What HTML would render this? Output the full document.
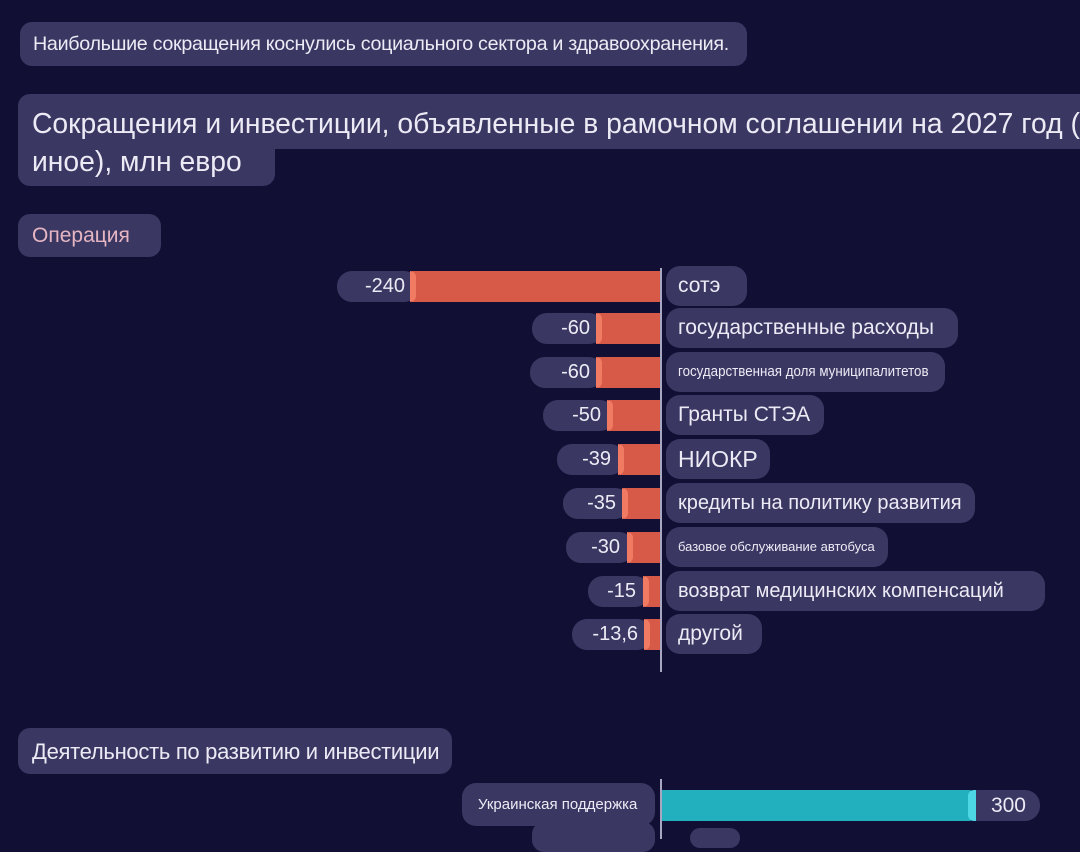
<!DOCTYPE html>
<html><head><meta charset="utf-8"><style>
body{margin:0;width:1080px;height:834px;overflow:hidden;background:#110f33;font-family:"Liberation Sans","DejaVu Sans",sans-serif;color:#ecebf5;position:relative}
.p{position:absolute;background:#3a3762;border-radius:12px;white-space:nowrap;box-sizing:border-box}
.v{position:absolute;background:#3a3762;border-radius:15px;height:31px;line-height:31px;font-size:20px;text-align:right;padding-right:14px;box-sizing:border-box}
.b{position:absolute;background:#d75a48;height:31px}
.b:before{content:"";position:absolute;left:-2px;top:0;width:6px;height:31px;border-radius:0 6px 6px 0;background:#f07a62}
.l{position:absolute;background:#3a3762;border-radius:14px;height:40px;line-height:40px;padding-left:12px;box-sizing:border-box;font-size:21px;white-space:nowrap;overflow:hidden}
.ax{position:absolute;left:660px;width:2px;background:#a8a6c0}
</style></head><body>
<div class="p" style="left:20px;top:22px;width:727px;height:44px;line-height:44px;padding-left:13px;font-size:19.8px;letter-spacing:-0.3px"><span style="display:inline-block;transform:scaleX(0.995);transform-origin:left">Наибольшие сокращения коснулись социального сектора и здравоохранения.</span></div>
<div class="p" style="left:18px;top:94px;width:1080px;height:55px;line-height:58px;padding-left:14px;font-size:28.3px;border-radius:12px 0 0 0">Сокращения и инвестиции, объявленные в рамочном соглашении на 2027 год (</div>
<div class="p" style="left:18px;top:145px;width:257px;height:41px;line-height:32px;padding-left:14px;font-size:28.3px;border-radius:0 0 12px 12px">иное), млн евро</div>
<div class="p" style="left:18px;top:214px;width:143px;height:43px;line-height:44px;padding-left:14px;font-size:21px;color:#e6b6c3">Операция</div>

<div class="ax" style="top:268px;height:404px"></div>

<div class="l" style="left:666px;top:266px;width:81px">сотэ</div>
<div class="l" style="left:666px;top:308px;width:292px">государственные расходы</div>
<div class="l" style="left:666px;top:352px;width:279px;font-size:14.5px"><span style="display:inline-block;transform:scaleX(0.92);transform-origin:left">государственная доля муниципалитетов</span></div>
<div class="l" style="left:666px;top:395px;width:158px">Гранты СТЭА</div>
<div class="l" style="left:666px;top:439px;width:104px;font-size:23px">НИОКР</div>
<div class="l" style="left:666px;top:483px;width:309px;font-size:20px">кредиты на политику развития</div>
<div class="l" style="left:666px;top:527px;width:222px;font-size:13px">базовое обслуживание автобуса</div>
<div class="l" style="left:666px;top:571px;width:379px;font-size:20px">возврат медицинских компенсаций</div>
<div class="l" style="left:666px;top:614px;width:96px">другой</div>

<div class="v" style="left:337px;top:271px;width:82px">-240</div><div class="b" style="left:412px;top:271px;width:248px"></div>
<div class="v" style="left:532px;top:313px;width:72px">-60</div><div class="b" style="left:598px;top:313px;width:62px"></div>
<div class="v" style="left:530px;top:357px;width:74px">-60</div><div class="b" style="left:598px;top:357px;width:62px"></div>
<div class="v" style="left:543px;top:400px;width:72px">-50</div><div class="b" style="left:609px;top:400px;width:51px"></div>
<div class="v" style="left:557px;top:444px;width:68px">-39</div><div class="b" style="left:620px;top:444px;width:40px"></div>
<div class="v" style="left:563px;top:488px;width:67px">-35</div><div class="b" style="left:624px;top:488px;width:36px"></div>
<div class="v" style="left:566px;top:532px;width:68px">-30</div><div class="b" style="left:629px;top:532px;width:31px"></div>
<div class="v" style="left:588px;top:576px;width:62px">-15</div><div class="b" style="left:645px;top:576px;width:15px"></div>
<div class="v" style="left:572px;top:619px;width:80px">-13,6</div><div class="b" style="left:646px;top:619px;width:14px"></div>

<div class="p" style="left:18px;top:728px;width:434px;height:46px;line-height:48px;padding-left:14px;font-size:22px;letter-spacing:-0.3px">Деятельность по развитию и инвестиции</div>
<div class="ax" style="top:779px;height:60px"></div>
<div class="l" style="left:462px;top:783px;width:193px;height:43px;line-height:43px;padding-left:16px;font-size:15px">Украинская поддержка</div>
<div class="v" style="left:962px;top:790px;width:78px;font-size:21px">300</div>
<div style="position:absolute;left:662px;top:790px;width:313px;height:31px;background:#22b0bf;border-radius:0 6px 6px 0"></div>
<div style="position:absolute;left:968px;top:790px;width:8px;height:31px;background:#4dd6e4;border-radius:6px 0 0 6px"></div>
<div class="p" style="left:532px;top:822px;width:123px;height:30px"></div>
<div class="p" style="left:690px;top:828px;width:50px;height:20px"></div>
</body></html>
